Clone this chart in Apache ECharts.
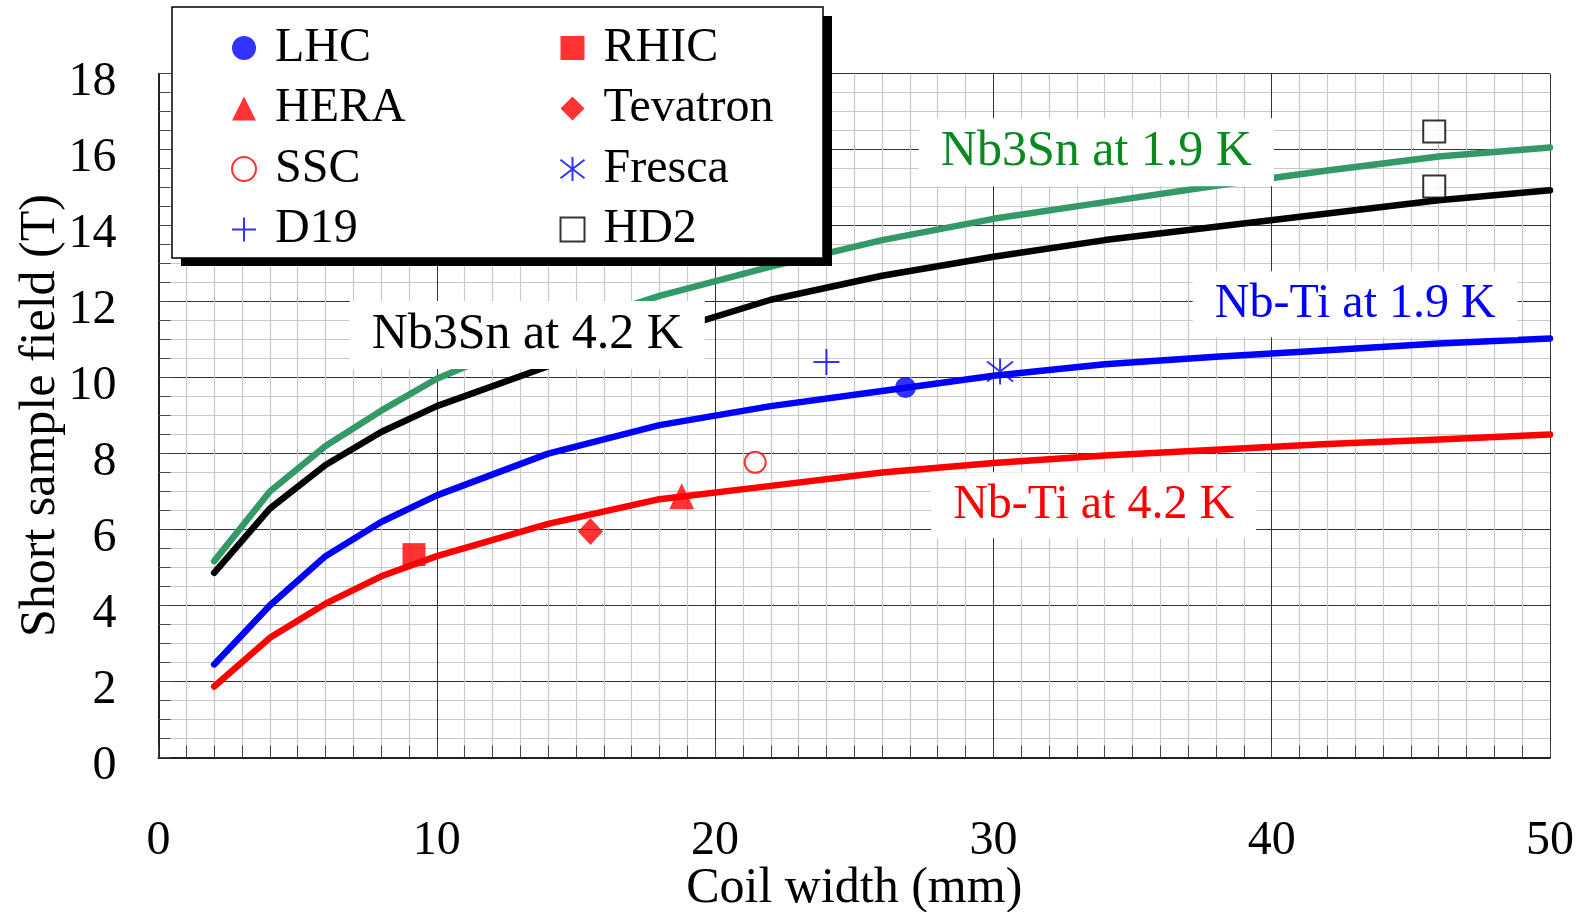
<!DOCTYPE html>
<html>
<head>
<meta charset="utf-8">
<script src="https://cdn.jsdelivr.net/npm/echarts@6/dist/echarts.min.js"></script>
<style>
  html, body { margin: 0; padding: 0; background: #fff; }
  #chart { width: 1583px; height: 912px; }
</style>
</head>
<body>
<div id="chart"></div>
<script>
// coil width (mm) where the curves are sampled
const widths = [2, 4, 6, 8, 10, 14, 18, 22, 26, 30, 34, 38, 42, 46, 50]
// short sample field (T)
const nbTi42 = [1.87, 3.15, 4.05, 4.77, 5.3, 6.15, 6.8, 7.15, 7.5, 7.75, 7.95, 8.1, 8.25, 8.37, 8.5]
const nbTi19 = [2.45, 4.0, 5.3, 6.2, 6.9, 8.0, 8.75, 9.25, 9.65, 10.05, 10.35, 10.55, 10.72, 10.9, 11.03]
const nb3Sn42 = [4.86, 6.55, 7.7, 8.57, 9.25, 10.3, 11.15, 12.05, 12.68, 13.18, 13.62, 13.97, 14.32, 14.67, 14.93]
const nb3Sn19 = [5.17, 7.0, 8.2, 9.13, 9.97, 11.2, 12.15, 12.92, 13.62, 14.18, 14.62, 15.05, 15.45, 15.82, 16.06]

// magnets [coil width, field]
const lhc = [[26.84, 9.74]]
const rhic = [[9.18, 5.34]]
const hera = [[18.8, 6.88]]
const tevatron = [[15.52, 5.95]]
const ssc = [[21.44, 7.77]]
const fresca = [[30.24, 10.16]]
const d19 = [[24.0, 10.41]]
const hd2 = [[45.84, 16.48], [45.84, 15.03]]

// curve labels and where they sit (data coords)
const curveLabels = ['Nb-Ti at 4.2 K', 'Nb-Ti at 1.9 K', 'Nb3Sn at 4.2 K', 'Nb3Sn at 1.9 K']
const curveLabelX = [33.6, 43.0, 13.25, 33.7]
const curveLabelY = [6.64, 11.93, 11.12, 15.93]

const legendLeft = ['LHC', 'HERA', 'SSC', 'D19']
const legendRight = ['RHIC', 'Tevatron', 'Fresca', 'HD2']

const FONT = 'Liberation Serif'

const zip = (xs, ys) => xs.map((x, i) => [x, ys[i]])

function curve(name, values, color, textColor, idx, fontSize) {
  return {
    name: name,
    type: 'line',
    data: zip(widths, values),
    symbol: 'none',
    z: 2,
    lineStyle: { color: color, width: 6.5, cap: 'round', join: 'round' },
    emphasis: { disabled: true },
    markPoint: {
      silent: true,
      symbol: 'rect',
      symbolSize: 1,
      itemStyle: { color: 'rgba(0,0,0,0)' },
      label: {
        show: true,
        position: 'inside',
        formatter: curveLabels[idx],
        color: textColor,
        fontFamily: FONT,
        fontSize: fontSize,
        backgroundColor: '#fff',
        padding: [9, 22]
      },
      data: [{ coord: [curveLabelX[idx], curveLabelY[idx]] }]
    }
  }
}

function marker(name, data, symbol, size, style) {
  return {
    name: name,
    type: 'scatter',
    data: data,
    symbol: symbol,
    symbolSize: size,
    symbolKeepAspect: true,
    z: 3,
    itemStyle: style,
    emphasis: { disabled: true }
  }
}

const legendCommon = {
  orient: 'vertical',
  top: 19,
  itemWidth: 24,
  itemHeight: 24,
  itemGap: 12.5,
  symbolKeepAspect: true,
  selectedMode: false,
  z: 20,
  textStyle: { fontFamily: FONT, fontSize: 48, color: '#000', padding: [0, 0, 0, 14] }
}

const chart = echarts.init(document.getElementById('chart'))
chart.setOption({
  animation: false,
  backgroundColor: '#fff',
  textStyle: { fontFamily: FONT },
  grid: { left: 158.5, right: 33, top: 73.7, bottom: 154.5, outerBoundsMode: 'none' },
  xAxis: {
    type: 'value',
    min: 0,
    max: 50,
    interval: 10,
    name: 'Coil width (mm)',
    nameLocation: 'middle',
    nameGap: 106,
    nameMoveOverlap: false,
    nameTextStyle: { fontFamily: FONT, fontSize: 50, color: '#000' },
    axisLine: { lineStyle: { color: '#222', width: 2 } },
    axisTick: { inside: true, length: 12, lineStyle: { color: '#444' } },
    minorTick: { show: true, splitNumber: 10, length: 12, lineStyle: { color: '#444' } },
    splitLine: { show: true, lineStyle: { color: '#333', width: 1 } },
    minorSplitLine: { show: true, lineStyle: { color: '#c8c8c8', width: 1.2 } },
    axisLabel: { fontFamily: FONT, fontSize: 48, color: '#000', margin: 60 }
  },
  yAxis: {
    type: 'value',
    min: 0,
    max: 18,
    interval: 2,
    name: 'Short sample field (T)',
    nameLocation: 'middle',
    nameGap: 93,
    nameMoveOverlap: false,
    nameTextStyle: { fontFamily: FONT, fontSize: 50, color: '#000' },
    axisLine: { show: true, lineStyle: { color: '#222', width: 2 } },
    axisTick: { inside: true, length: 12, lineStyle: { color: '#444' } },
    minorTick: { show: true, splitNumber: 4, length: 12, lineStyle: { color: '#444' } },
    splitLine: { show: true, lineStyle: { color: '#333', width: 1 } },
    minorSplitLine: { show: true, lineStyle: { color: '#c8c8c8', width: 1.2 } },
    axisLabel: { fontFamily: FONT, fontSize: 48, color: '#000', margin: 42, verticalAlign: 'top', lineHeight: 17 }
  },
  legend: [
    Object.assign({ left: 226, data: legendLeft }, legendCommon),
    Object.assign({ left: 554.5, data: legendRight }, legendCommon)
  ],
  graphic: [
    // legend frame with drop shadow
    { type: 'rect', z: 10, silent: true, shape: { x: 181, y: 16, width: 651, height: 250 }, style: { fill: '#000' } },
    { type: 'rect', z: 11, silent: true, shape: { x: 172, y: 7, width: 651, height: 251 }, style: { fill: '#fff', stroke: '#000', lineWidth: 1.5 } }
  ],
  series: [
    curve('Nb-Ti 4.2 K', nbTi42, '#ff0000', '#ff0000', 0, 48),
    curve('Nb-Ti 1.9 K', nbTi19, '#0000ff', '#0000ff', 1, 48),
    curve('Nb3Sn 4.2 K', nb3Sn42, '#000000', '#000000', 2, 50),
    curve('Nb3Sn 1.9 K', nb3Sn19, '#339966', '#0a8a1e', 3, 50),
    marker('LHC', lhc, 'circle', 21, { color: '#0000ff' }),
    marker('RHIC', rhic, 'rect', 23, { color: '#ff0000' }),
    marker('HERA', hera, 'triangle', [25, 26], { color: '#ff0000' }),
    marker('Tevatron', tevatron, 'diamond', [25, 27], { color: '#ff0000' }),
    marker('SSC', ssc, 'emptyCircle', 21, { color: '#ff0000', borderColor: '#ff0000', borderWidth: 2 }),
    marker('Fresca', fresca, 'path://M13,0 L13,26 M0,3 L26,23 M0,23 L26,3', 26, { color: '#0000ff', borderColor: '#0000ff', borderWidth: 2 }),
    marker('D19', d19, 'path://M13,0 L13,26 M0,13 L26,13', 26, { color: '#0000ff', borderColor: '#0000ff', borderWidth: 2 }),
    marker('HD2', hd2, 'emptyRect', 22, { color: '#000', borderColor: '#000', borderWidth: 2.5 })
  ]
})
</script>
</body>
</html>
